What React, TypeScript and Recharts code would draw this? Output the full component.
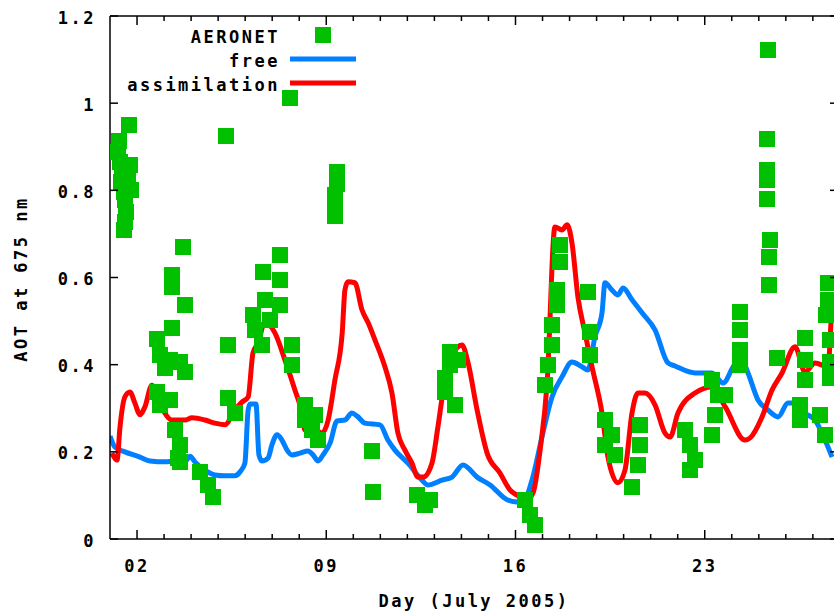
import React from 'react';
import { ComposedChart, Line, Scatter, XAxis, YAxis, ReferenceLine } from 'recharts';

// model run without assimilation ("free")
const freeDays = [1.00, 1.18, 1.55, 2.11, 2.48, 3.03, 3.40, 3.77, 3.96, 4.14, 4.51, 4.88, 5.25, 5.62, 5.81, 5.99, 6.11, 6.18, 6.40, 6.51, 6.62, 6.85, 6.99, 7.18, 7.36, 7.55, 7.73, 8.03, 8.32, 8.51, 8.70, 8.88, 9.14, 9.40, 9.69, 9.95, 10.14, 10.43, 10.99, 11.28, 11.54, 12.02, 12.54, 12.76, 13.28, 13.65, 14.06, 14.58, 15.06, 15.69, 16.06, 16.28, 16.61, 16.98, 17.35, 17.72, 18.09, 18.46, 18.68, 18.94, 19.20, 19.31, 19.57, 19.79, 19.98, 20.31, 20.68, 21.16, 21.64, 21.90, 22.64, 23.27, 23.68, 24.05, 24.31, 24.60, 24.97, 25.34, 25.71, 26.08, 26.42, 26.71, 27.08, 27.45, 27.71];
const freeAot = [0.236, 0.211, 0.200, 0.188, 0.179, 0.177, 0.179, 0.177, 0.190, 0.177, 0.158, 0.147, 0.145, 0.145, 0.154, 0.174, 0.296, 0.310, 0.310, 0.193, 0.179, 0.186, 0.216, 0.239, 0.227, 0.204, 0.193, 0.197, 0.202, 0.193, 0.179, 0.193, 0.220, 0.271, 0.273, 0.289, 0.282, 0.266, 0.262, 0.227, 0.204, 0.174, 0.135, 0.124, 0.135, 0.142, 0.170, 0.142, 0.124, 0.090, 0.085, 0.085, 0.135, 0.234, 0.326, 0.372, 0.406, 0.395, 0.388, 0.464, 0.519, 0.588, 0.571, 0.560, 0.576, 0.549, 0.519, 0.480, 0.404, 0.397, 0.381, 0.381, 0.358, 0.395, 0.418, 0.381, 0.319, 0.296, 0.280, 0.312, 0.312, 0.289, 0.273, 0.227, 0.188];

// run with assimilation
const assimDays = [1.07, 1.26, 1.37, 1.55, 1.74, 1.92, 2.11, 2.29, 2.55, 2.78, 3.03, 3.29, 3.77, 4.03, 4.51, 4.88, 5.25, 5.62, 5.88, 6.11, 6.29, 6.48, 6.73, 7.10, 7.47, 7.84, 8.10, 8.21, 8.47, 8.84, 9.07, 9.32, 9.59, 9.69, 9.80, 10.06, 10.32, 10.55, 10.80, 11.17, 11.43, 11.65, 11.91, 12.17, 12.39, 12.58, 12.91, 13.13, 13.39, 13.65, 14.02, 14.24, 14.58, 14.95, 15.43, 15.80, 16.17, 16.35, 16.65, 16.91, 17.17, 17.46, 17.72, 17.91, 18.09, 18.31, 18.57, 18.83, 19.20, 19.42, 19.79, 20.05, 20.31, 20.53, 20.79, 21.16, 21.53, 21.72, 22.01, 22.64, 23.27, 23.76, 24.49, 24.68, 25.12, 25.49, 25.86, 26.34, 26.71, 27.08, 27.56, 27.71, 27.79];
const assimAot = [0.197, 0.181, 0.257, 0.326, 0.337, 0.312, 0.285, 0.303, 0.353, 0.326, 0.289, 0.273, 0.273, 0.278, 0.273, 0.266, 0.262, 0.296, 0.314, 0.326, 0.427, 0.450, 0.498, 0.473, 0.411, 0.342, 0.289, 0.250, 0.257, 0.243, 0.273, 0.365, 0.473, 0.571, 0.590, 0.588, 0.526, 0.496, 0.457, 0.395, 0.335, 0.243, 0.204, 0.174, 0.142, 0.142, 0.174, 0.257, 0.365, 0.418, 0.445, 0.406, 0.296, 0.197, 0.151, 0.112, 0.096, 0.085, 0.106, 0.204, 0.358, 0.716, 0.709, 0.721, 0.679, 0.555, 0.473, 0.395, 0.289, 0.188, 0.129, 0.158, 0.289, 0.335, 0.335, 0.308, 0.243, 0.234, 0.289, 0.335, 0.349, 0.303, 0.227, 0.232, 0.280, 0.342, 0.381, 0.441, 0.383, 0.404, 0.395, 0.532, 0.555];

// AERONET observations
const aeronetDays = [1.33, 1.30, 1.37, 1.44, 1.41, 1.52, 1.55, 1.59, 1.55, 1.52, 1.70, 1.74, 1.78, 1.67, 5.29, 7.66, 3.70, 3.29, 3.29, 3.77, 3.29, 2.74, 2.85, 3.22, 3.59, 3.77, 3.03, 2.74, 3.22, 2.85, 3.40, 3.59, 3.52, 3.59, 4.33, 4.63, 4.81, 5.37, 5.37, 5.62, 7.29, 6.66, 7.29, 6.73, 7.29, 6.29, 6.36, 6.62, 6.92, 7.73, 7.73, 8.21, 8.58, 8.21, 8.47, 8.70, 9.40, 9.40, 9.32, 9.32, 9.32, 10.69, 10.73, 12.36, 12.65, 12.84, 13.58, 13.58, 13.39, 13.39, 13.76, 13.87, 16.35, 16.54, 16.72, 17.65, 17.65, 17.54, 17.54, 17.35, 17.35, 17.20, 17.09, 18.68, 18.76, 18.76, 19.31, 19.57, 19.68, 19.31, 20.31, 20.61, 20.61, 20.53, 22.27, 22.46, 22.64, 22.46, 23.27, 23.49, 23.38, 23.27, 23.76, 24.31, 24.31, 24.31, 24.31, 25.34, 25.31, 25.31, 25.31, 25.31, 25.42, 25.38, 25.38, 25.68, 26.71, 26.71, 26.71, 26.53, 26.53, 27.27, 27.45, 27.56, 27.56, 27.49, 27.64, 27.64, 27.64];
const aeronetAot = [0.913, 0.888, 0.865, 0.842, 0.819, 0.796, 0.778, 0.750, 0.727, 0.709, 0.950, 0.858, 0.801, 0.829, 0.925, 1.012, 0.670, 0.606, 0.578, 0.537, 0.484, 0.459, 0.422, 0.411, 0.406, 0.383, 0.392, 0.337, 0.319, 0.308, 0.250, 0.216, 0.186, 0.177, 0.154, 0.124, 0.096, 0.445, 0.324, 0.289, 0.652, 0.613, 0.594, 0.549, 0.537, 0.514, 0.480, 0.445, 0.503, 0.445, 0.399, 0.308, 0.285, 0.273, 0.250, 0.227, 0.842, 0.815, 0.789, 0.762, 0.741, 0.202, 0.108, 0.101, 0.078, 0.090, 0.429, 0.399, 0.369, 0.337, 0.308, 0.411, 0.090, 0.055, 0.032, 0.675, 0.636, 0.571, 0.537, 0.491, 0.445, 0.399, 0.353, 0.567, 0.475, 0.422, 0.273, 0.239, 0.193, 0.216, 0.119, 0.262, 0.216, 0.170, 0.250, 0.216, 0.181, 0.158, 0.365, 0.330, 0.285, 0.239, 0.330, 0.521, 0.480, 0.434, 0.399, 1.122, 0.918, 0.847, 0.824, 0.780, 0.686, 0.647, 0.583, 0.415, 0.461, 0.411, 0.365, 0.308, 0.273, 0.285, 0.239, 0.588, 0.549, 0.514, 0.457, 0.406, 0.369];

const dayTicks = [2, 3, 4, 5, 6, 7, 8, 9, 10, 11, 12, 13, 14, 15, 16, 17, 18, 19, 20, 21, 22, 23, 24, 25, 26, 27];
const majorDays = [2, 9, 16, 23];
const majorLabels = ['02', '09', '16', '23'];
const aotTicks = [0, 0.2, 0.4, 0.6, 0.8, 1, 1.2];
const aotLabels = ['0', '0.2', '0.4', '0.6', '0.8', '1', '1.2'];

const freeRows = freeDays.map((d, i) => ({ day: d, aot: freeAot[i] }));
const assimRows = assimDays.map((d, i) => ({ day: d, aot: assimAot[i] }));
const aeronetRows = aeronetDays.map((d, i) => ({ day: d, aot: aeronetAot[i] }));

const X_MIN = 1;
const X_MAX = 27.93;
const PLOT_LEFT = 110;
const PLOT_RIGHT = 838;
const PLOT_TOP = 16;
const PLOT_BOTTOM = 539;

const GREEN = '#00c000';
const BLUE = '#0080ff';
const RED = '#ff0000';

const txt = {
  fontFamily: '"DejaVu Sans Mono", monospace',
  fontWeight: 'bold' as const,
  fontSize: 17,
  letterSpacing: 2.5,
  fill: '#000',
};

const DayTick = (props: any) => {
  const { x, payload } = props;
  const idx = majorDays.indexOf(payload.value);
  const len = idx >= 0 ? 9 : 5;
  return (
    <g>
      <line x1={x} x2={x} y1={PLOT_BOTTOM} y2={PLOT_BOTTOM - len} stroke="#000" strokeWidth={1.5} />
      <line x1={x} x2={x} y1={PLOT_TOP} y2={PLOT_TOP + len} stroke="#000" strokeWidth={1.5} />
      {idx >= 0 && (
        <text x={x} y={PLOT_BOTTOM + 33} textAnchor="middle" {...txt}>
          {majorLabels[idx]}
        </text>
      )}
    </g>
  );
};

const AotTick = (props: any) => {
  const { y, payload } = props;
  const idx = aotTicks.indexOf(payload.value);
  return (
    <g>
      <line x1={PLOT_LEFT} x2={PLOT_LEFT + 8} y1={y} y2={y} stroke="#000" strokeWidth={1.5} />
      <line x1={PLOT_RIGHT} x2={PLOT_RIGHT - 8} y1={y} y2={y} stroke="#000" strokeWidth={1.5} />
      <text x={96} y={y + 7.5} textAnchor="end" {...txt}>
        {aotLabels[idx]}
      </text>
    </g>
  );
};

const Square = (props: any) => {
  const { cx, cy } = props;
  return <rect x={cx - 8} y={cy - 8} width={16} height={16} fill={GREEN} shapeRendering="crispEdges" />;
};

const XTitle = () => (
  <text x={474} y={607} textAnchor="middle" {...txt}>
    Day (July 2005)
  </text>
);

const YTitle = () => (
  <text x={21} y={279} textAnchor="middle" dominantBaseline="central" transform="rotate(-90, 21, 279)" {...txt}>
    AOT at 675 nm
  </text>
);

export default function App() {
  return (
    <div style={{ position: 'absolute', left: 0, top: 0, width: 834, height: 612, overflow: 'hidden', background: '#fff' }}>
      <ComposedChart width={840} height={612} margin={{ top: PLOT_TOP, right: 2, bottom: 0, left: 0 }}>
        <XAxis
          dataKey="day"
          type="number"
          domain={[X_MIN, X_MAX]}
          allowDataOverflow
          ticks={dayTicks}
          interval={0}
          height={73}
          tickSize={0}
          tickMargin={0}
          tickLine={false}
          tick={<DayTick />}
          axisLine={{ stroke: '#000', strokeWidth: 1.5 }}
          label={<XTitle />}
        />
        <YAxis
          type="number"
          domain={[0, 1.2]}
          ticks={aotTicks}
          interval={0}
          width={PLOT_LEFT}
          tickSize={0}
          tickMargin={0}
          tickLine={false}
          tick={<AotTick />}
          axisLine={{ stroke: '#000', strokeWidth: 1.5 }}
          label={<YTitle />}
        />
        <ReferenceLine y={1.2} stroke="#000" strokeWidth={1.5} />
        <ReferenceLine x={X_MAX} stroke="#000" strokeWidth={1.5} />
        <Scatter data={aeronetRows} dataKey="aot" shape={<Square />} isAnimationActive={false} />
        <Line data={freeRows} dataKey="aot" type="monotone" stroke={BLUE} strokeWidth={5} strokeLinejoin="round" dot={false} activeDot={false} isAnimationActive={false} />
        <Line data={assimRows} dataKey="aot" type="monotone" stroke={RED} strokeWidth={5} strokeLinejoin="round" dot={false} activeDot={false} isAnimationActive={false} />
      </ComposedChart>
      <svg width={834} height={612} style={{ position: 'absolute', left: 0, top: 0, pointerEvents: 'none' }}>
        <text x={280} y={43} textAnchor="end" {...txt}>AERONET</text>
        <rect x={315} y={27} width={16} height={16} fill={GREEN} shapeRendering="crispEdges" />
        <text x={280} y={67} textAnchor="end" {...txt}>free</text>
        <line x1={290} x2={356} y1={59} y2={59} stroke={BLUE} strokeWidth={5} />
        <text x={280} y={91} textAnchor="end" {...txt}>assimilation</text>
        <line x1={290} x2={356} y1={83} y2={83} stroke={RED} strokeWidth={5} />
      </svg>
    </div>
  );
}
